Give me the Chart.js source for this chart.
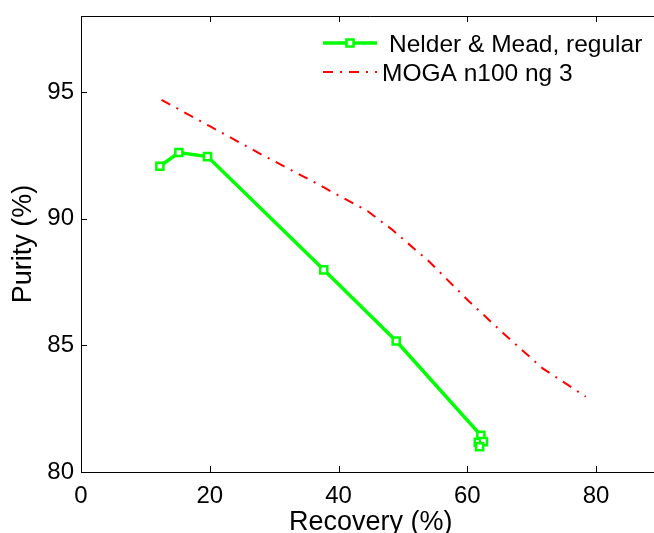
<!DOCTYPE html>
<html>
<head>
<meta charset="utf-8">
<title>Purity vs Recovery</title>
<script src="https://cdn.jsdelivr.net/npm/chart.js@4.4.1/dist/chart.umd.min.js"></script>
<style>
  html, body { margin: 0; padding: 0; background: #fff; overflow: hidden; }
  #myChart { display: block; }
</style>
</head>
<body>
<canvas id="myChart" width="668" height="533"></canvas>
<script>
// Nelder & Mead, regular
const nmRecovery = [12.25, 15.2, 19.65, 37.7, 48.95, 62.1, 61.7, 62.5, 61.9];
const nmPurity = [92.07, 92.61, 92.45, 87.98, 85.17, 81.45, 81.17, 81.2, 81.0];

// MOGA n100 ng 3
const mogaRecovery = [12.5, 20, 28.2, 36, 41, 44.5, 48.4, 54.1, 60, 65.7, 71.7, 78.4];
const mogaPurity = [94.69, 93.65, 92.51, 91.47, 90.78, 90.3, 89.55, 88.3, 86.8, 85.45, 84.09, 82.97];

const seriesLabels = ['Nelder & Mead, regular', 'MOGA n100 ng 3'];
const xTicks = [0, 20, 40, 60, 80];
const yTicks = [80, 85, 90, 95];

{
  'use strict';

  const fontFamily = '"Liberation Sans", Arial, Helvetica, sans-serif';

  const toPoints = function(xs, ys){
    const points = [];
    for(let i = 0; i < xs.length; i++){
      points.push({x: xs[i], y: ys[i]});
    }
    return points;
  };

  const noScalePadding = function(scale){
    scale.paddingTop = 0;
    scale.paddingBottom = 0;
    scale.paddingLeft = 0;
    scale.paddingRight = 0;
  };

  // matlab style ticks pointing inside the box, plus the top/right border
  const innerTicks = {
    id: 'innerTicks',
    afterDraw: function(chart){
      const ctx = chart.ctx;
      const area = chart.chartArea;
      const xScale = chart.scales.x;
      const yScale = chart.scales.y;
      const len = 6;

      ctx.save();
      ctx.strokeStyle = '#000';
      ctx.lineWidth = 1;
      ctx.beginPath();
      ctx.moveTo(area.left, area.top + 0.5);
      ctx.lineTo(area.right, area.top + 0.5);
      ctx.moveTo(area.right - 0.5, area.top);
      ctx.lineTo(area.right - 0.5, area.bottom);

      for(let value of xTicks){
        const px = Math.round(xScale.getPixelForValue(value)) + 0.5;
        if(px <= area.left + 1) continue;
        ctx.moveTo(px, area.bottom);
        ctx.lineTo(px, area.bottom - len);
        ctx.moveTo(px, area.top);
        ctx.lineTo(px, area.top + len);
      }

      for(let value of yTicks){
        const py = Math.round(yScale.getPixelForValue(value)) + 0.5;
        if(py >= area.bottom - 1) continue;
        ctx.moveTo(area.left, py);
        ctx.lineTo(area.left + len, py);
        ctx.moveTo(area.right, py);
        ctx.lineTo(area.right - len, py);
      }
      ctx.stroke();
      ctx.restore();
    }
  };

  // legend drawn in the upper right corner, no frame
  const cornerLegend = {
    id: 'cornerLegend',
    afterDraw: function(chart){
      const ctx = chart.ctx;
      const rows = [
        {lineY: 43, textX: 389, baseY: 52},
        {lineY: 72, textX: 382, baseY: 81},
      ];

      ctx.save();
      chart.data.datasets.forEach(function(ds, i){
        const row = rows[i];
        ctx.strokeStyle = ds.borderColor;
        ctx.lineWidth = ds.borderWidth;
        ctx.setLineDash(ds.borderDash || []);
        ctx.beginPath();
        ctx.moveTo(323, row.lineY);
        ctx.lineTo(377, row.lineY);
        ctx.stroke();
        ctx.setLineDash([]);

        if(ds.pointRadius > 0){
          ctx.fillStyle = ds.pointBackgroundColor;
          ctx.strokeStyle = ds.pointBorderColor;
          ctx.lineWidth = ds.pointBorderWidth;
          const size = Math.SQRT1_2 * ds.pointRadius;
          ctx.beginPath();
          ctx.rect(350 - size, row.lineY - size, 2 * size, 2 * size);
          ctx.fill();
          ctx.stroke();
        }

        ctx.fillStyle = '#000';
        ctx.font = '24.5px ' + fontFamily;
        ctx.textBaseline = 'alphabetic';
        ctx.textAlign = 'left';
        ctx.fillText(ds.label, row.textX, row.baseY);
      });
      ctx.restore();
    }
  };

  const initChart = function(){
    const ctx = document.getElementById('myChart').getContext('2d');

    // eslint-disable-next-line no-unused-vars
    const myChart = new Chart(ctx, {
      type: 'scatter',
      data: {
        datasets: [
          {
            label: seriesLabels[0],
            data: toPoints(nmRecovery, nmPurity),
            showLine: true,
            borderColor: '#00ff00',
            borderWidth: 3.5,
            pointStyle: 'rect',
            pointRadius: 5,
            pointHoverRadius: 5,
            pointBorderWidth: 2.5,
            pointBorderColor: '#00ff00',
            pointBackgroundColor: '#ffffff',
          },
          {
            label: seriesLabels[1],
            data: toPoints(mogaRecovery, mogaPurity),
            showLine: true,
            borderColor: '#ff0000',
            borderWidth: 2,
            borderDash: [10, 7, 2, 7],
            pointRadius: 0,
          }
        ]
      },
      options: {
        responsive: false,
        animation: false,
        events: [],
        layout: {
          padding: {top: 16, left: 0, right: 6.5, bottom: 0},
        },
        scales: {
          x: {
            type: 'linear',
            min: 0,
            max: 90,
            afterBuildTicks: function(scale){
              scale.ticks = xTicks.map(function(v){ return {value: v}; });
            },
            afterFit: function(scale){
              scale.height = 61;
              noScalePadding(scale);
            },
            grid: {drawOnChartArea: false, drawTicks: false},
            border: {display: true, color: '#000', width: 1},
            ticks: {
              color: '#000',
              padding: 10,
              maxRotation: 0,
              font: {family: fontFamily, size: 24},
            },
            title: {
              display: true,
              text: 'Recovery (%)',
              color: '#000',
              padding: {top: 0, bottom: 0},
              font: {family: fontFamily, size: 27, lineHeight: 0.8},
            },
          },
          y: {
            type: 'linear',
            min: 80,
            max: 98,
            afterBuildTicks: function(scale){
              scale.ticks = yTicks.map(function(v){ return {value: v}; });
            },
            afterFit: function(scale){
              scale.width = 81;
              noScalePadding(scale);
            },
            grid: {drawOnChartArea: false, drawTicks: false},
            border: {display: true, color: '#000', width: 1},
            ticks: {
              color: '#000',
              padding: 7,
              font: {family: fontFamily, size: 24},
            },
            title: {
              display: true,
              text: 'Purity (%)',
              color: '#000',
              padding: {top: 14, bottom: 0},
              font: {family: fontFamily, size: 27, lineHeight: 0.7},
            },
          }
        },
        plugins: {
          legend: {display: false},
          tooltip: {enabled: false},
        },
      },
      plugins: [innerTicks, cornerLegend],
    });
  };

  initChart();
}
</script>
</body>
</html>
